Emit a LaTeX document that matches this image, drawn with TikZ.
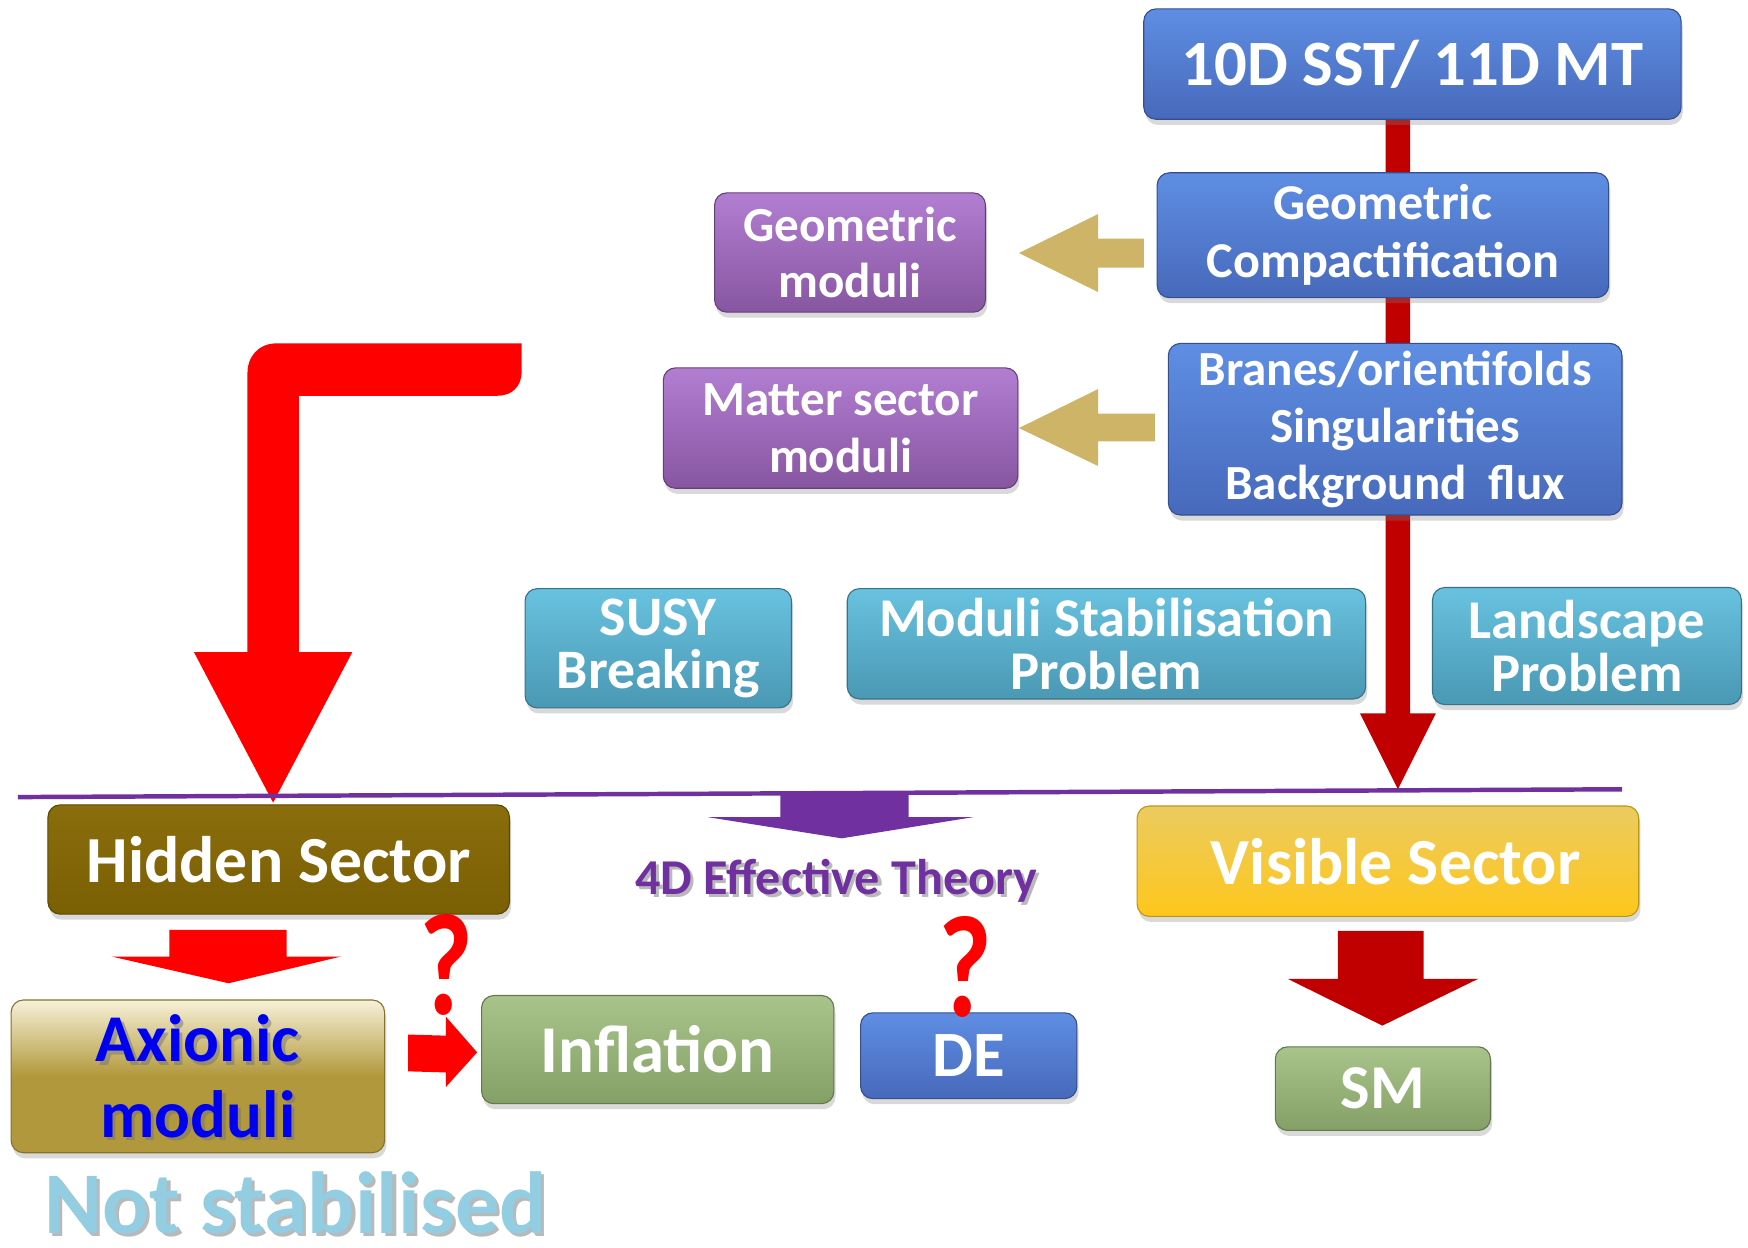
\documentclass[tikz,border=0pt]{standalone}
\usepackage{fontspec}
\setmainfont{Carlito}
\usetikzlibrary{shadows,backgrounds,calc}

\definecolor{blueTop}{HTML}{5E8EE3}
\definecolor{blueBot}{HTML}{4769BB}
\definecolor{purpTop}{HTML}{B27ED2}
\definecolor{purpBot}{HTML}{8756A0}
\definecolor{tealTop}{HTML}{68C2DF}
\definecolor{tealBot}{HTML}{4A98B4}
\definecolor{oliveTop}{HTML}{8A6D0C}
\definecolor{oliveBot}{HTML}{7A5F04}
\definecolor{goldTop}{HTML}{EBCB60}
\definecolor{goldBot}{HTML}{FFC71C}
\definecolor{creamTop}{HTML}{F7F1D8}
\definecolor{axGold}{HTML}{B1983C}
\definecolor{greenTop}{HTML}{A8C48A}
\definecolor{greenBot}{HTML}{84A066}
\definecolor{tanArrow}{HTML}{CDB466}
\definecolor{brightRed}{HTML}{FF0000}
\definecolor{deepRed}{HTML}{C00000}
\definecolor{theoryPurple}{HTML}{7030A0}
\definecolor{iceBlue}{HTML}{92CDE2}
\definecolor{axBlue}{HTML}{0000F0}

\tikzset{
  panel/.style 2 args={rounded corners=11pt, top color=#1, bottom color=#2,
    draw=#2!75!black, line width=1pt,
    drop shadow={opacity=0.3, shadow xshift=1.5pt, shadow yshift=-5pt},
    text=white, align=center, inner sep=0pt},
  fs/.style n args={2}{font=\fontsize{#1}{#2}\selectfont\bfseries},
  qmark/.style={text=brightRed, inner sep=0pt, font=\fontsize{130}{130}\selectfont\bfseries},
  shadowtext/.style={text=black!55, opacity=0.5, inner sep=0pt, align=center},
}

\begin{document}
\begin{tikzpicture}[x=1pt,y=-1pt]
\useasboundingbox (0,0) rectangle (1568,1119);

% string-theory chain
\node[panel={blueTop}{blueBot}, minimum width=482, minimum height=99, fs={58}{62}] (top) at (1267,57.5) {10D SST/ 11D MT};
\node[panel={blueTop}{blueBot}, minimum width=405, minimum height=112, fs={45}{52}] (gc) at (1240.5,211) {Geometric\\Compactification};
\node[panel={blueTop}{blueBot}, minimum width=407, minimum height=154, fs={44}{51}] (br) at (1251.5,385) {Branes/orientifolds\\Singularities\\Background\ \ flux};

% moduli
\node[panel={purpTop}{purpBot}, minimum width=243, minimum height=107, fs={44}{51}] (gm) at (762.5,226.5) {Geometric\\moduli};
\node[panel={purpTop}{purpBot}, minimum width=318, minimum height=108, fs={44}{51}] (ms) at (754,384) {Matter sector\\moduli};

% problems
\node[panel={tealTop}{tealBot}, minimum width=239, minimum height=107, fs={50}{47}] (susy) at (590.5,581.5) {SUSY\\Breaking};
\node[panel={tealTop}{tealBot}, minimum width=465, minimum height=99, fs={49}{47}] (msp) at (992.5,577.5) {Moduli Stabilisation\\Problem};
\node[panel={tealTop}{tealBot}, minimum width=277, minimum height=105, fs={49}{47}] (land) at (1423.5,579.5) {Landscape\\Problem};

% sectors
\node[panel={oliveTop}{oliveBot}, minimum width=414, minimum height=98, fs={59}{63}] (hid) at (250,771) {Hidden Sector};
\node[panel={goldTop}{goldBot}, minimum width=450, minimum height=99, fs={59}{63}] (vis) at (1245,772.5) {\hspace*{14pt}Visible Sector};

% outcomes
\node[panel={creamTop}{axGold}, middle color=axGold, minimum width=335, minimum height=137] (ax) at (177.5,965.5) {};
\node[shadowtext, fs={60}{68}] at ($(ax.center)+(3,3)$) {Axionic\\moduli};
\node[text=axBlue, inner sep=0pt, align=center, fs={60}{68}] (axt) at (ax.center) {Axionic\\moduli};
\node[panel={greenTop}{greenBot}, minimum width=316, minimum height=97, fs={60}{64}] (inf) at (590,941.5) {Inflation};
\node[panel={blueTop}{blueBot}, minimum width=194, minimum height=77, fs={58}{60}] (de) at (869,947) {DE};
\node[panel={greenTop}{greenBot}, minimum width=193, minimum height=75, fs={56}{60}] (sm) at (1240.5,976.5) {SM};

% 4D effective theory label
\node[shadowtext, fs={45}{48}] at (753,793) {4D Effective Theory};
\node[text=theoryPurple, inner sep=0pt, fs={45}{48}] (eft) at (750,790) {4D Effective Theory};

% not stabilised
\node[shadowtext, fs={79}{82}] at (268,1082) {Not stabilised};
\node[text=iceBlue, inner sep=0pt, fs={79}{82}] (ns) at (265,1079) {Not stabilised};

% question marks
\node[qmark] (q1) at (400,866) {\scalebox{0.8}[1]{?}};
\node[qmark] (q2) at (866,867) {\scalebox{0.8}[1]{?}};

\begin{pgfonlayer}{background}
  % main red connector from the 10D theory down to the visible sector
  \coordinate (vtip) at (1254,708);
  \fill[deepRed] ($(top.south -| vtip)+(-11,0)$) -- ($(vtip)+(-11,-68)$) -- ($(vtip)+(-34,-68)$)
    -- (vtip) -- ($(vtip)+(34,-68)$) -- ($(vtip)+(11,-68)$) -- ($(top.south -| vtip)+(11,0)$) -- cycle;
\end{pgfonlayer}

% tan arrows to the moduli
\fill[tanArrow] (1026,214) -- (985,214) -- (985,192) -- (914,227) -- (985,262) -- (985,240) -- (1026,240) -- cycle;
\fill[tanArrow] (1036,371) -- (985,371) -- (985,349) -- (914,384) -- (985,418) -- (985,396) -- (1036,396) -- cycle;

% bent red arrow into the hidden sector
\fill[brightRed] (174,585) -- (222,585) -- (222,334) .. controls (222,320) and (232,308) .. (248,308) -- (468,308)
  -- (468,333) .. controls (468,346) and (460,355) .. (446,355) -- (268,355) -- (268,585) -- (316,585) -- (245,720) -- cycle;

% block arrows below the sectors
\fill[brightRed] (152,834) -- (257,834) -- (257,858) -- (306,858) -- (205,882) -- (100,858) -- (152,858) -- cycle;
\fill[deepRed] (1200,835) -- (1277,835) -- (1277,878) -- (1326,878) -- (1240,920) -- (1155,878) -- (1200,878) -- cycle;
\fill[brightRed] (366,928) -- (400,929) -- (400,912) -- (428,944) -- (400,975) -- (400,962) -- (366,961) -- cycle;

% 4D dividing line and its arrow
\fill[theoryPurple] (700,711) -- (815,710) -- (815,733) -- (873,733) -- (755,752) -- (635,733) -- (700,733) -- cycle;
\draw[theoryPurple, line width=4pt] (16,715) -- (1455,708);
\end{tikzpicture}
\end{document}
